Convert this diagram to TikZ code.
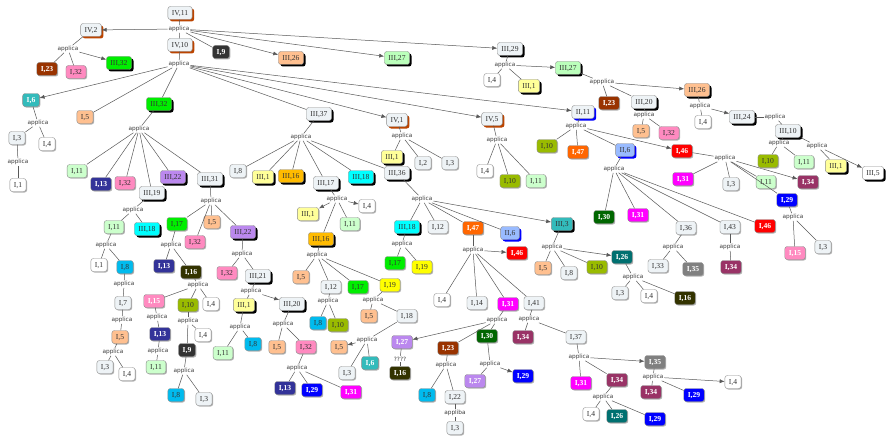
\documentclass[tikz,border=0pt]{standalone}
\usepackage{fontspec}
\setmainfont{Liberation Serif}
\newfontfamily\lblfont{DejaVu Sans}
\usetikzlibrary{arrows.meta,shadows}
\definecolor{cGray}{HTML}{EEF3F6}
\definecolor{cPeach}{HTML}{FFC090}
\definecolor{cPink}{HTML}{FF8AC0}
\definecolor{cLtGreen}{HTML}{CCFFCC}
\definecolor{cLtGreenB}{HTML}{BBFFBB}
\definecolor{cLtYellow}{HTML}{FFFF99}
\definecolor{cYellow}{HTML}{FFFF00}
\definecolor{cOrgYel}{HTML}{FFBB00}
\definecolor{cCyan}{HTML}{00FFFF}
\definecolor{cPurple}{HTML}{BB88EE}
\definecolor{cTeal}{HTML}{33BBBB}
\definecolor{cNavy}{HTML}{333399}
\definecolor{cDkOlive}{HTML}{333300}
\definecolor{cOlive}{HTML}{99BB00}
\definecolor{cBlCyan}{HTML}{00BBEE}
\definecolor{cDkGray}{HTML}{333333}
\definecolor{cBrown}{HTML}{993300}
\definecolor{cOrange}{HTML}{FF6600}
\definecolor{cRed}{HTML}{FF0000}
\definecolor{cMagenta}{HTML}{FF00FF}
\definecolor{cMaroon}{HTML}{993366}
\definecolor{cBlue}{HTML}{0000FF}
\definecolor{cDkGreen}{HTML}{006600}
\definecolor{cDkTeal}{HTML}{007070}
\definecolor{cMidGray}{HTML}{808080}
\definecolor{cLtBlue}{HTML}{99BBFF}
\definecolor{cGreen}{HTML}{00EE00}
\definecolor{cShIV}{HTML}{BB4400}
\newcommand\myfan[2]{\foreach \c in {#2} \draw[ln] (#1) -- (\c);}
\newcommand\myfar[2]{\foreach \c in {#2} \draw[ar] (#1) -- (\c);}
\begin{document}
\begin{tikzpicture}[x=1pt,y=-1pt,
 box/.style={rounded corners=2.5pt, draw=black!45, line width=0.4pt, inner xsep=4pt, inner ysep=0pt,
   minimum height=13pt, text height=5.6pt, text depth=1.4pt, font=\fontsize{7.6}{8}\selectfont, text=black!80},
 wt/.style={text=white, font=\fontsize{7.6}{8}\selectfont\bfseries},
 lab/.style={font=\lblfont\fontsize{5.8}{6}\selectfont, text=black!75, inner sep=0.8pt},
 ln/.style={draw=black!65, line width=0.5pt},
 ar/.style={ln, -{Latex[length=5pt,width=4pt]}},
 sa/.style={drop shadow={shadow xshift=1pt,shadow yshift=-1pt,fill=black!30,opacity=1}},
 sc/.style={drop shadow={shadow xshift=2pt,shadow yshift=-2pt,fill=black,opacity=1}},
 sd/.style={drop shadow={shadow xshift=2pt,shadow yshift=-2pt,fill=cShIV,opacity=1}},
 sb/.style={drop shadow={shadow xshift=2pt,shadow yshift=-2pt,fill=cBlue,opacity=1}},
 cgray/.style={box,fill=cGray},
 cwhite/.style={box,fill=white},
 cpeach/.style={box,fill=cPeach},
 cpink/.style={box,fill=cPink},
 cpinkw/.style={box,fill=cPink,wt},
 cltg/.style={box,fill=cLtGreen},
 cltgb/.style={box,fill=cLtGreenB},
 clyel/.style={box,fill=cLtYellow},
 cyel/.style={box,fill=cYellow},
 corgyel/.style={box,fill=cOrgYel},
 ccyan/.style={box,fill=cCyan},
 cpurple/.style={box,fill=cPurple},
 cpurplew/.style={box,fill=cPurple,wt},
 ctealw/.style={box,fill=cTeal,wt},
 cteal/.style={box,fill=cTeal},
 cnavy/.style={box,fill=cNavy,wt},
 cdkolive/.style={box,fill=cDkOlive,wt},
 colive/.style={box,fill=cOlive},
 cblcyan/.style={box,fill=cBlCyan},
 cdkgray/.style={box,fill=cDkGray,wt},
 cbrown/.style={box,fill=cBrown,wt},
 corange/.style={box,fill=cOrange,wt},
 cred/.style={box,fill=cRed,wt},
 cmag/.style={box,fill=cMagenta,wt},
 cmaroon/.style={box,fill=cMaroon,wt},
 cblue/.style={box,fill=cBlue,wt},
 cdkgreen/.style={box,fill=cDkGreen,wt},
 cdkteal/.style={box,fill=cDkTeal,wt},
 cmidgray/.style={box,fill=cMidGray,wt},
 cltblue/.style={box,fill=cLtBlue},
 cgreen/.style={box,fill=cGreen}]
\useasboundingbox[fill=white] (0,0) rectangle (889,436);
% ---------- top
\node[cgray,sd] (A) at (180,13) {IV,11};
\node[lab] (aA) at (179,29) {applica};
\node[cgray,sd] (B) at (91,30) {IV,2};
\node[cgray,sd] (C) at (180,45) {IV,10};
\node[cdkgray,sa] (D) at (221,52) {I,9};
\node[cpeach,sc] (E) at (291,58) {III,26};
\node[cltgb,sc] (F) at (397,58) {III,27};
\node[cgray,sc] (G) at (510,49) {III,29};
\draw[ln] (A) -- (aA); \myfan{aA}{C,D} \myfar{aA}{B,E,F,G}
\node[lab] (aB) at (68,49) {applica};
\node[cbrown,sa] (B1) at (47,69) {I,23};
\node[cpink,sa] (B2) at (76,72) {I,32};
\node[cgreen,sc] (B3) at (119,63) {III,32};
\draw[ln] (B) -- (aB); \myfan{aB}{B1,B2} \myfar{aB}{B3}
\node[lab] (aC) at (179,64) {applica};
\node[ctealw,sa] (C1) at (31,100) {I,6};
\node[cpeach,sa] (C2) at (85,117) {I,5};
\node[cgreen,sc] (C3) at (159,104) {III,32};
\node[cgray,sc] (C4) at (319,114) {III,37};
\node[cgray,sd] (C5) at (397,120) {IV,1};
\node[cgray,sd] (C6) at (492,119) {IV,5};
\node[cgray,sb] (C7) at (583,112) {II,11};
\draw[ln] (C) -- (aC); \myfan{aC}{C2,C3,C4} \myfar{aC}{C1,C5,C6,C7}
% ---------- I,6 branch
\node[lab] (aC1) at (38,123) {applica};
\node[cgray,sa] (C1a) at (17,138) {I,3};
\node[cwhite,sa] (C1b) at (47,144) {I,4};
\draw[ln] (C1) -- (aC1); \myfan{aC1}{C1a,C1b}
\node[lab] (aC1a) at (18,162) {applica};
\node[cwhite,sa] (C1c) at (18,185) {I,1};
\draw[ln] (C1a) -- (aC1a); \myfan{aC1a}{C1c}
% ---------- III,32 branch
\node[lab] (aC3) at (139,129) {applica};
\node[cltg,sa] (C3a) at (77,171) {I,11};
\node[cnavy,sa] (C3b) at (101,184) {I,13};
\node[cpink,sa] (C3c) at (125,183) {I,32};
\node[cgray,sc] (C3d) at (152,193) {III,19};
\node[cpurple,sc] (C3e) at (173,177) {III,22};
\node[cgray,sc] (C3f) at (210,179) {III,31};
\draw[ln] (C3) -- (aC3); \myfan{aC3}{C3a,C3b,C3c,C3d,C3e,C3f}
\node[lab] (aC3d) at (133,210) {applica};
\node[cltg,sa] (C3d1) at (114,227) {I,11};
\node[ccyan,sc] (C3d2) at (147,229) {III,18};
\draw[ln] (C3d) -- (aC3d); \myfan{aC3d}{C3d1,C3d2}
\node[lab] (aC3d1) at (106,245) {applica};
\node[cwhite,sa] (C3d1a) at (99,265) {I,1};
\node[cblcyan,sa] (C3d1b) at (125,267) {I,8};
\draw[ln] (C3d1) -- (aC3d1); \myfan{aC3d1}{C3d1a,C3d1b}
\node[lab] (aC3d1b) at (124,284) {applica};
\node[cgray,sa] (P1) at (123,303) {I,7};
\draw[ln] (C3d1b) -- (aC3d1b); \myfan{aC3d1b}{P1}
\node[lab] (aP1) at (122,320) {applica};
\node[cpeach,sa] (P2) at (120,337) {I,5};
\draw[ln] (P1) -- (aP1); \myfan{aP1}{P2}
\node[lab] (aP2) at (113,352) {applica};
\node[cgray,sa] (P3) at (105,367) {I,3};
\node[cwhite,sa] (P4) at (127,374) {I,4};
\draw[ln] (P2) -- (aP2); \myfan{aP2}{P3,P4}
% ---------- III,31 branch
\node[lab] (aC3f) at (211,201) {applica};
\node[cgreen,sa] (Q1) at (177,224) {I,17};
\node[cpink,sa] (Q2) at (195,242) {I,32};
\node[cpeach,sa] (Q3) at (212,222) {I,5};
\node[cpurple,sc] (Q4) at (243,232) {III,22};
\draw[ln] (C3f) -- (aC3f); \myfan{aC3f}{Q1,Q2,Q3,Q4}
\node[lab] (aQ1) at (171,245) {applica};
\node[cnavy,sa] (Q1a) at (164,266) {I,13};
\node[cdkolive,sa] (Q1b) at (191,272) {I,16};
\draw[ln] (Q1) -- (aQ1); \myfan{aQ1}{Q1a,Q1b}
\node[lab] (aQ1b) at (198,285) {applica};
\node[cpinkw,sa] (R1) at (154,301) {I,15};
\node[colive,sa] (R2) at (188,305) {I,10};
\node[cwhite,sa] (R3) at (211,304) {I,4};
\draw[ln] (Q1b) -- (aQ1b); \myfan{aQ1b}{R1,R2,R3}
\node[lab] (aR1) at (157,317) {applica};
\node[cnavy,sa] (R1a) at (160,334) {I,13};
\draw[ln] (R1) -- (aR1); \myfan{aR1}{R1a}
\node[lab] (aR1a) at (158,351) {applica};
\node[cltg,sa] (R1b) at (156,367) {I,11};
\draw[ln] (R1a) -- (aR1a); \myfan{aR1a}{R1b}
\node[lab] (aR2) at (188,321) {applica};
\node[cwhite,sa] (R2a) at (203,335) {I,4};
\node[cdkgray,sa] (R2b) at (187,350) {I,9};
\draw[ln] (R2) -- (aR2); \myfan{aR2}{R2a,R2b}
\node[lab] (aR2b) at (184,371) {applica};
\node[cblcyan,sa] (R2c) at (176,395) {I,8};
\node[cgray,sa] (R2d) at (204,399) {I,3};
\draw[ln] (R2b) -- (aR2b); \myfan{aR2b}{R2c,R2d}
% ---------- III,22 (lower) branch
\node[lab] (aQ4) at (242,254) {applica};
\node[cpink,sa] (Q4a) at (227,273) {I,32};
\node[cgray,sc] (Q4b) at (258,276) {III,21};
\draw[ln] (Q4) -- (aQ4); \myfan{aQ4}{Q4a,Q4b}
\node[lab] (aQ4b) at (251,291) {applica};
\node[clyel,sc] (S1) at (244,305) {III,1};
\node[cgray,sc] (S2) at (292,304) {III,20};
\draw[ln] (Q4b) -- (aQ4b); \myfan{aQ4b}{S1} \myfar{aQ4b}{S2}
\node[lab] (aS1) at (240,327) {applica};
\node[cltg,sa] (S1a) at (223,353) {I,11};
\node[cblcyan,sa] (S1b) at (253,344) {I,8};
\draw[ln] (S1) -- (aS1); \myfan{aS1}{S1a,S1b}
\node[lab] (aS2) at (283,324) {applica};
\node[cpeach,sa] (S2a) at (277,347) {I,5};
\node[cpink,sa] (S2b) at (306,347) {I,32};
\draw[ln] (S2) -- (aS2); \myfan{aS2}{S2a,S2b}
\node[lab] (aS2b) at (297,368) {applica};
\node[cnavy,sa] (S2c) at (285,388) {I,13};
\node[cblue,sa] (S2d) at (312,390) {I,29};
\node[cmag,sa] (S2e) at (351,392) {I,31};
\draw[ln] (S2b) -- (aS2b); \myfan{aS2b}{S2c,S2d,S2e}
% ---------- III,37 branch
\node[lab] (aC4) at (301,137) {applica};
\node[cgray,sa] (T1) at (238,171) {I,8};
\node[clyel,sc] (T2) at (263,177) {III,1};
\node[corgyel,sc] (T3) at (291,176) {III,16};
\node[cgray,sc] (T4) at (326,183) {III,17};
\node[ccyan,sc] (T5) at (361,177) {III,18};
\node[cgray,sc] (T6) at (397,173) {III,36};
\draw[ln] (C4) -- (aC4); \myfan{aC4}{T1,T2,T3,T4,T5,T6}
\node[lab] (aT4) at (337,199) {applica};
\node[clyel,sa] (T4a) at (308,214) {III,1};
\node[cwhite,sa] (T4b) at (367,206) {I,4};
\node[cltg,sa] (T4c) at (350,224) {I,11};
\node[corgyel,sc] (T4d) at (321,239) {III,16};
\draw[ln] (T4) -- (aT4); \myfan{aT4}{T4c,T4d} \myfar{aT4}{T4a,T4b}
\node[lab] (aT4d) at (317,255) {applica};
\node[cpeach,sa] (U1) at (301,277) {I,5};
\node[cgray,sa] (U2) at (331,287) {I,12};
\node[cgreen,sa] (U3) at (358,287) {I,17};
\node[cyel,sa] (U4) at (390,285) {I,19};
\draw[ln] (T4d) -- (aT4d); \myfan{aT4d}{U1,U2,U3,U4}
\node[lab] (aU2) at (328,301) {applica};
\node[cblcyan,sa] (U2a) at (318,323) {I,8};
\node[colive,sa] (U2b) at (338,325) {I,10};
\draw[ln] (U2) -- (aU2); \myfan{aU2}{U2a,U2b}
\node[lab] (aU4) at (373,300) {applica};
\node[cpeach,sa] (U4a) at (369,316) {I,5};
\node[cgray,sa] (U4b) at (407,316) {I,18};
\draw[ln] (U4) -- (aU4); \myfan{aU4}{U4a,U4b}
\node[lab] (aU4b) at (367,340) {applica};
\node[cpeach,sa] (U4c) at (339,347) {I,5};
\node[cgray,sa] (U4d) at (347,373) {I,3};
\node[ctealw,sa] (U4e) at (370,363) {I,6};
\draw[ln] (U4b) -- (aU4b); \myfan{aU4b}{U4d,U4e} \myfar{aU4b}{U4c}
% ---------- III,36 branch
\node[lab] (aT6) at (422,199) {applica};
\node[ccyan,sc] (V1) at (407,227) {III,18};
\node[cgray,sa] (V2) at (438,227) {I,12};
\node[corange,sa] (V3) at (473,228) {I,47};
\node[cltblue,sb] (V4) at (510,233) {II,6};
\node[cteal,sc] (V5) at (562,224) {III,3};
\draw[ln] (T6) -- (aT6); \myfan{aT6}{V1,V2,V3,V4} \myfar{aT6}{V5}
\node[lab] (aV1) at (402,244) {applica};
\node[cgreen,sa] (V1a) at (395,263) {I,17};
\node[cyel,sa] (V1b) at (422,267) {I,19};
\draw[ln] (V1) -- (aV1); \myfan{aV1}{V1a,V1b}
\node[lab] (aV3) at (473,250) {applica};
\node[cred,sa] (V3a) at (517,253) {I,46};
\node[cwhite,sa] (V3b) at (442,300) {I,4};
\node[cgray,sa] (V3c) at (477,303) {I,14};
\node[cmag,sa] (V3d) at (508,304) {I,31};
\node[cgray,sa] (V3e) at (534,303) {I,41};
\draw[ln] (V3) -- (aV3); \myfan{aV3}{V3b,V3c,V3d,V3e} \myfar{aV3}{V3a}
\node[lab] (aV3d) at (497,320) {applica};
\node[cdkgreen,sa] (W1) at (487,336) {I,30};
\node[cbrown,sa] (W2) at (448,348) {I,23};
\node[cpurplew,sa] (W3) at (402,342) {I,27};
\draw[ln] (V3d) -- (aV3d); \myfan{aV3d}{W1,W2} \myfar{aV3d}{W3}
\node[lab] (aW3) at (400,359) {????};
\node[cdkolive,sa] (W3a) at (400,373) {I,16};
\draw[ln] (W3) -- (aW3); \myfan{aW3}{W3a}
\node[lab] (aW2) at (446,365) {applica};
\node[cblcyan,sa] (W2a) at (427,395) {I,8};
\node[cgray,sa] (W2b) at (455,397) {I,22};
\draw[ln] (W2) -- (aW2); \myfan{aW2}{W2a,W2b}
\node[lab] (aW2b) at (455,413) {appliba};
\node[cgray,sa] (W2c) at (455,428) {I,3};
\draw[ln] (W2b) -- (aW2b); \myfan{aW2b}{W2c}
\node[lab] (aW1) at (490,364) {applica};
\node[cpurplew,sa] (W1a) at (475,381) {I,27};
\node[cblue,sa] (W1b) at (523,376) {I,29};
\draw[ln] (W1) -- (aW1); \myfan{aW1}{W1a} \myfar{aW1}{W1b}
\node[lab] (aV3e) at (529,319) {applica};
\node[cmaroon,sa] (X1) at (523,337) {I,34};
\node[cgray,sa] (X2) at (576,337) {I,37};
\draw[ln] (V3e) -- (aV3e); \myfan{aV3e}{X1,X2}
\node[lab] (aX2) at (579,357) {applica};
\node[cmag,sa] (X2a) at (581,383) {I,31};
\node[cmaroon,sa] (X2b) at (617,380) {I,34};
\node[cmidgray,sa] (X2c) at (655,362) {I,35};
\draw[ln] (X2) -- (aX2); \myfan{aX2}{X2a,X2b} \myfar{aX2}{X2c}
\node[lab] (aX2b) at (603,397) {applica};
\node[cwhite,sa] (X2d) at (591,414) {I,4};
\node[cdkteal,sa] (X2e) at (617,416) {I,26};
\node[cblue,sa] (X2f) at (655,419) {I,29};
\draw[ln] (X2b) -- (aX2b); \myfan{aX2b}{X2d,X2e,X2f}
\node[lab] (aX2c) at (653,377) {applica};
\node[cmaroon,sa] (X2g) at (651,392) {I,34};
\node[cblue,sa] (X2h) at (694,395) {I,29};
\node[cwhite,sa] (X2i) at (733,382) {I,4};
\draw[ln] (X2c) -- (aX2c); \myfan{aX2c}{X2g,X2h} \myfar{aX2c}{X2i}
% ---------- III,3 branch
\node[lab] (aV5) at (552,247) {applica};
\node[cpeach,sa] (Y1) at (543,268) {I,5};
\node[cgray,sa] (Y2) at (569,273) {I,8};
\node[colive,sa] (Y3) at (597,267) {I,10};
\node[cdkteal,sa] (Y4) at (622,257) {I,26};
\draw[ln] (V5) -- (aV5); \myfan{aV5}{Y1,Y2,Y3} \myfar{aV5}{Y4}
\node[lab] (aY4) at (633,277) {applica};
\node[cgray,sa] (Y4a) at (620,293) {I,3};
\node[cwhite,sa] (Y4b) at (649,296) {I,4};
\node[cdkolive,sa] (Y4c) at (685,298) {I,16};
\draw[ln] (Y4) -- (aY4); \myfan{aY4}{Y4a,Y4b,Y4c}
% ---------- IV,1 and IV,5
\node[lab] (aC5) at (402,136) {applica};
\node[clyel,sc] (C5a) at (392,157) {III,1};
\node[cgray,sa] (C5b) at (423,163) {I,2};
\node[cgray,sa] (C5c) at (450,163) {I,3};
\draw[ln] (C5) -- (aC5); \myfan{aC5}{C5a,C5b,C5c}
\node[lab] (aC6) at (497,140) {applica};
\node[cwhite,sa] (C6a) at (485,171) {I,4};
\node[colive,sa] (C6b) at (510,181) {I,10};
\node[cltg,sa] (C6c) at (536,181) {I,11};
\draw[ln] (C6) -- (aC6); \myfan{aC6}{C6a,C6b,C6c}
% ---------- II,11 branch
\node[lab] (aC7) at (576,126) {applica};
\node[colive,sa] (C7a) at (547,146) {I,10};
\node[corange,sa] (C7b) at (578,152) {I,47};
\node[cltblue,sb] (C7c) at (625,150) {II,6};
\node[cred,sa] (C7d) at (682,151) {I,46};
\draw[ln] (C7) -- (aC7); \myfan{aC7}{C7a,C7b,C7c} \myfar{aC7}{C7d}
\node[lab] (aC7c) at (614,169) {applica};
\node[cdkgreen,sa] (Z1) at (604,217) {I,30};
\node[cmag,sa] (Z2) at (638,215) {I,31};
\node[cgray,sa] (Z3) at (686,228) {I,36};
\node[cgray,sa] (Z4) at (730,227) {I,43};
\node[cred,sa] (Z5) at (765,226) {I,46};
\draw[ln] (C7c) -- (aC7c); \myfan{aC7c}{Z1,Z2,Z3,Z4,Z5}
\node[lab] (aZ3) at (673,247) {applica};
\node[cgray,sa] (Z3a) at (658,266) {I,33};
\node[cmidgray,sa] (Z3b) at (693,269) {I,35};
\draw[ln] (Z3) -- (aZ3); \myfan{aZ3}{Z3a,Z3b}
\node[lab] (aZ4) at (730,247) {applica};
\node[cmaroon,sa] (Z4a) at (731,267) {I,34};
\draw[ln] (Z4) -- (aZ4); \myfan{aZ4}{Z4a}
\node[lab] (aC7d) at (725,158) {applica};
\node[cmag,sa] (Z6) at (683,179) {I,31};
\node[cgray,sa] (Z7) at (731,184) {I,3};
\node[cltg,sa] (Z8) at (766,182) {I,11};
\node[cmaroon,sa] (Z9) at (808,182) {I,34};
\node[cblue,sa] (Z10) at (787,200) {I,29};
\draw[ln] (C7d) -- (aC7d); \myfan{aC7d}{Z6,Z7,Z8,Z10} \myfar{aC7d}{Z9}
\node[lab] (aZ10) at (793,217) {applica};
\node[cpinkw,sa] (Z10a) at (795,253) {I,15};
\node[cgray,sa] (Z10b) at (823,247) {I,3};
\draw[ln] (Z10) -- (aZ10); \myfan{aZ10}{Z10a,Z10b}
% ---------- III,29 branch
\node[lab] (aG) at (505,65) {applica};
\node[cwhite,sa] (G1) at (492,80) {I,4};
\node[clyel,sc] (G2) at (529,86) {III,1};
\node[cltgb,sc] (G3) at (568,68) {III,27};
\draw[ln] (G) -- (aG); \myfan{aG}{G1,G2} \myfar{aG}{G3}
\node[lab] (aG3) at (602,82) {appplica};
\node[cbrown,sa] (G3a) at (609,103) {I,23};
\node[cgray,sc] (G3b) at (644,102) {III,20};
\node[cpeach,sc] (G3c) at (697,90) {III,26};
\draw[ln] (G3) -- (aG3); \myfan{aG3}{G3a,G3b} \myfar{aG3}{G3c}
\node[lab] (aG3b) at (644,115) {applica};
\node[cpeach,sa] (G3d) at (641,131) {I,5};
\node[cpink,sa] (G3e) at (669,133) {I,32};
\draw[ln] (G3b) -- (aG3b); \myfan{aG3b}{G3d,G3e}
\node[lab] (aG3c) at (700,106) {applica};
\node[cwhite,sa] (G3f) at (703,122) {I,4};
\node[cgray,sc] (G3g) at (742,117) {III,24};
\draw[ln] (G3c) -- (aG3c); \myfan{aG3c}{G3f} \myfar{aG3c}{G3g}
\node[lab] (aG3g) at (775,117) {applica};
\node[cgray,sc] (G3h) at (788,131) {III,10};
\draw[ln] (G3g) -- (aG3g); \myfan{aG3g}{G3h}
\node[lab] (aG3h1) at (779,143) {applica};
\node[colive,sa] (G3i) at (768,161) {I,10};
\node[cltg,sa] (G3j) at (804,162) {I,11};
\draw[ln] (G3h) -- (aG3h1); \myfan{aG3h1}{G3i,G3j}
\node[lab] (aG3h2) at (817,146) {applica};
\node[clyel,sc] (G3k) at (836,166) {III,1};
\node[cwhite,sc] (G3l) at (873,173) {III,5};
\draw[ln] (G3h) -- (aG3h2); \myfan{aG3h2}{G3k} \myfar{aG3h2}{G3l}
\end{tikzpicture}
\end{document}
